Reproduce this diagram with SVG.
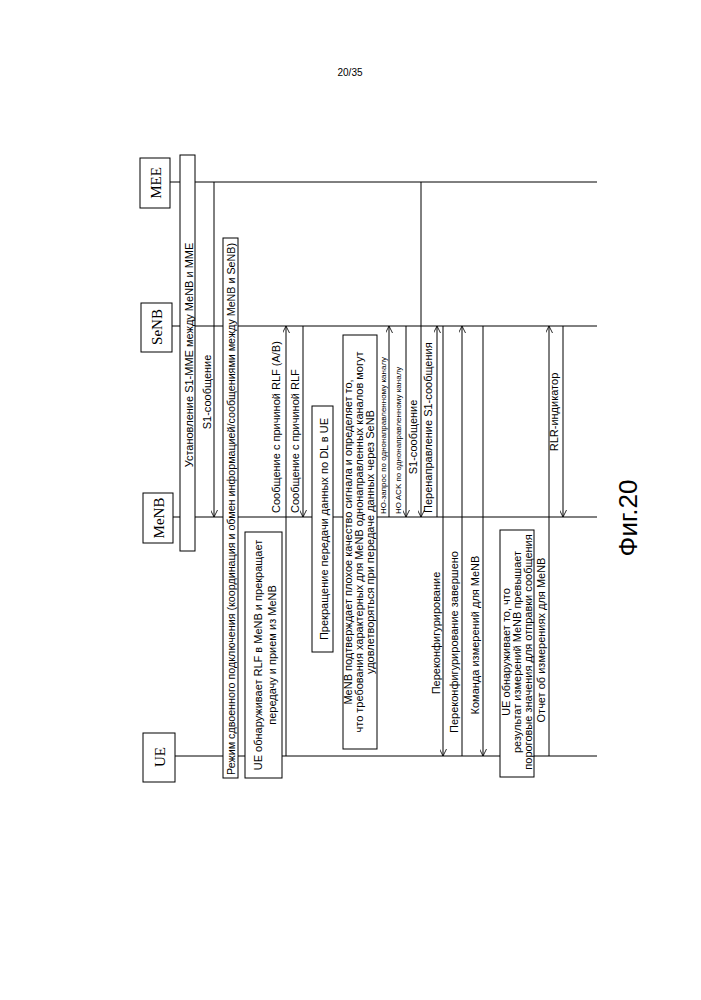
<svg xmlns="http://www.w3.org/2000/svg" width="701" height="1000" viewBox="0 0 701 1000">
<defs>
<marker id="ah" viewBox="0 0 10 10" refX="10" refY="5" markerWidth="7" markerHeight="7" orient="auto-start-reverse" markerUnits="userSpaceOnUse">
<path d="M0,0 L10,5 L0,10" fill="none" stroke="#000" stroke-width="1.2"/>
</marker>
<style>
text{font-family:"Liberation Sans",Arial,sans-serif;font-size:11px;fill:#000}
.h{font-family:"Liberation Serif",serif;font-size:15px}
.s{font-size:8px}
.d{font-size:10px}
.f{font-size:26px}
.p{font-size:10px}
.b{fill:#fff;stroke:#000;stroke-width:1}
.l{stroke:#000;stroke-width:1;fill:none}
.m{stroke:#000;stroke-width:1;fill:none;marker-end:url(#ah)}
</style>
</defs>
<rect width="701" height="1000" fill="#fff"/>
<text class="p" x="350" y="76" text-anchor="middle">20/35</text>
<g id="lifelines">
<line class="l" x1="170" y1="182" x2="597" y2="182"/>
<line class="l" x1="172" y1="326" x2="597" y2="326"/>
<line class="l" x1="173" y1="517" x2="597" y2="517"/>
<line class="l" x1="175" y1="756" x2="597" y2="756"/>
</g>
<g id="MEE"><rect class="b" x="140" y="158" width="30" height="50"/><text class="h" transform="translate(161,183) rotate(-90)" text-anchor="middle">MEE</text></g>
<g id="SeNB"><rect class="b" x="141" y="303" width="31" height="49"/><text class="h" transform="translate(162,327) rotate(-90)" text-anchor="middle">SeNB</text></g>
<g id="MeNB"><rect class="b" x="143" y="493" width="30" height="50"/><text class="h" transform="translate(164,518) rotate(-90)" text-anchor="middle">MeNB</text></g>
<g id="UE"><rect class="b" x="143" y="733" width="32" height="49"/><text class="h" transform="translate(165,757) rotate(-90)" text-anchor="middle">UE</text></g>
<g id="boxes">
<g id="n1"><rect class="b" x="180" y="155" width="15" height="396"/><text transform="translate(193,355) rotate(-90)" text-anchor="middle">Установление S1-MME между MeNB и MME</text></g>
<g id="n2"><rect class="b" x="223" y="238" width="15" height="540"/><text class="d" transform="translate(235,775) rotate(-90)" textLength="532" lengthAdjust="spacingAndGlyphs">Режим сдвоенного подключения (координация и обмен информацией/сообщениями между MeNB и SeNB)</text></g>
<g id="n3"><rect class="b" x="245" y="532" width="37" height="246"/><text transform="translate(262,655) rotate(-90)" text-anchor="middle">UE обнаруживает RLF в MeNB и прекращает</text><text transform="translate(276,655) rotate(-90)" text-anchor="middle">передачу и прием из MeNB</text></g>
<g id="n4"><rect class="b" x="312" y="406" width="21" height="246"/><text transform="translate(328,529) rotate(-90)" text-anchor="middle">Прекращение передачи данных по DL в UE</text></g>
<g id="n5"><rect class="b" x="343" y="335" width="34" height="414"/><text transform="translate(352,542) rotate(-90)" text-anchor="middle">MeNB подтверждает плохое качество сигнала и определяет то,</text><text transform="translate(363,542) rotate(-90)" text-anchor="middle">что требования характерных для MeNB однонаправленных каналов могут</text><text transform="translate(374,542) rotate(-90)" text-anchor="middle">удовлетворяться при передаче данных через SeNB</text></g>
<g id="n6"><rect class="b" x="500" y="530" width="34" height="247"/><text transform="translate(510,652) rotate(-90)" text-anchor="middle">UE обнаруживает то, что</text><text transform="translate(521,652) rotate(-90)" text-anchor="middle">результат измерений MeNB превышает</text><text transform="translate(532,652) rotate(-90)" text-anchor="middle">пороговые значения для отправки сообщения</text></g>
</g>
<g id="connectors">
<line class="m" x1="214" y1="182" x2="214" y2="517"/>
<line class="m" x1="286" y1="756" x2="286" y2="326"/>
<line class="m" x1="303" y1="326" x2="303" y2="517"/>
<line class="m" x1="389" y1="517" x2="389" y2="326"/>
<line class="m" x1="406" y1="326" x2="406" y2="517"/>
<line class="m" x1="421" y1="182" x2="421" y2="517"/>
<line class="m" x1="437" y1="517" x2="437" y2="326"/>
<line class="m" x1="443" y1="326" x2="443" y2="756"/>
<line class="m" x1="462" y1="756" x2="462" y2="326"/>
<line class="m" x1="483" y1="326" x2="483" y2="756"/>
<line class="m" x1="549" y1="756" x2="549" y2="326"/>
<line class="m" x1="563" y1="326" x2="563" y2="517"/>
</g>
<g id="labels">
<text transform="translate(211,392) rotate(-90)" text-anchor="middle">S1-сообщение</text>
<text transform="translate(280,513) rotate(-90)">Сообщение с причиной RLF (A/B)</text>
<text transform="translate(299,513) rotate(-90)">Сообщение с причиной RLF</text>
<text class="s" transform="translate(386,514) rotate(-90)">HO-запрос по однонаправленному каналу</text>
<text class="s" transform="translate(401,514) rotate(-90)">HO ACK по однонаправленному каналу</text>
<text transform="translate(417,437) rotate(-90)" text-anchor="middle">S1-сообщение</text>
<text transform="translate(432,513) rotate(-90)">Перенаправление S1-сообщения</text>
<text transform="translate(440,633) rotate(-90)" text-anchor="middle">Переконфигурирование</text>
<text transform="translate(458,642) rotate(-90)" text-anchor="middle">Переконфигурирование завершено</text>
<text transform="translate(479,635) rotate(-90)" text-anchor="middle">Команда измерений для MeNB</text>
<text transform="translate(545,640) rotate(-90)" text-anchor="middle">Отчет об измерениях для MeNB</text>
<text transform="translate(558,412) rotate(-90)" text-anchor="middle">RLR-индикатор</text>
</g>
<text class="f" transform="translate(637,518) rotate(-90)" text-anchor="middle">Фиг.20</text>
</svg>
